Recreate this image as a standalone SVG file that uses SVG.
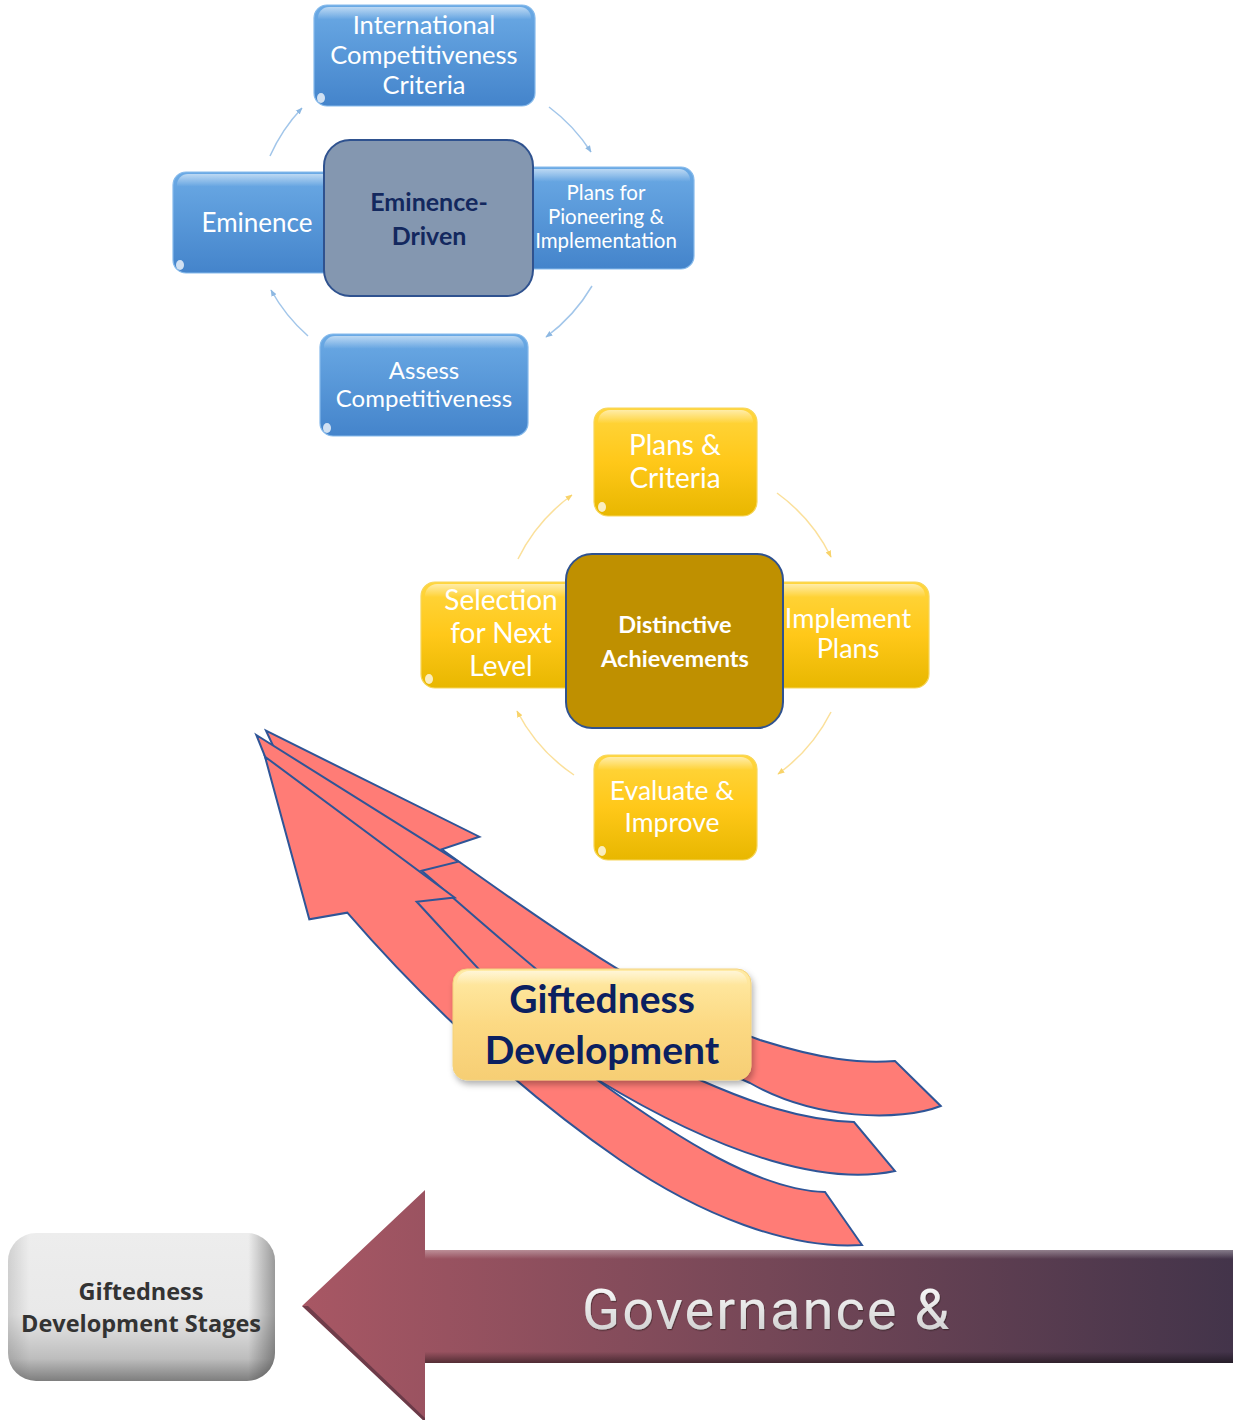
<svg xmlns="http://www.w3.org/2000/svg" width="1233" height="1420" viewBox="0 0 1233 1420">
  <defs>
    <linearGradient id="gBlue" x1="0" y1="0" x2="0" y2="1">
      <stop offset="0" stop-color="#6BAAE5"/>
      <stop offset="1" stop-color="#4484CB"/>
    </linearGradient>
    <linearGradient id="gGold" x1="0" y1="0" x2="0" y2="1">
      <stop offset="0" stop-color="#FFD63F"/>
      <stop offset="0.5" stop-color="#FFC819"/>
      <stop offset="1" stop-color="#E8B700"/>
    </linearGradient>
    <linearGradient id="gGloss" x1="0" y1="0" x2="0" y2="1">
      <stop offset="0" stop-color="#FFFFFF" stop-opacity="0.55"/>
      <stop offset="0.13" stop-color="#FFFFFF" stop-opacity="0"/>
    </linearGradient>
    <linearGradient id="gCream" x1="0" y1="0" x2="0" y2="1">
      <stop offset="0" stop-color="#FFEBA6"/>
      <stop offset="0.5" stop-color="#FCD983"/>
      <stop offset="1" stop-color="#F6CE74"/>
    </linearGradient>
    <linearGradient id="gShaft" x1="302" y1="0" x2="1233" y2="0" gradientUnits="userSpaceOnUse">
      <stop offset="0" stop-color="#A85764"/>
      <stop offset="0.5" stop-color="#754757"/>
      <stop offset="1" stop-color="#43344A"/>
    </linearGradient>
    <linearGradient id="gShaftShade" x1="0" y1="1250" x2="0" y2="1363" gradientUnits="userSpaceOnUse">
      <stop offset="0" stop-color="#FFFFFF" stop-opacity="0.35"/>
      <stop offset="0.08" stop-color="#FFFFFF" stop-opacity="0"/>
      <stop offset="0.9" stop-color="#000000" stop-opacity="0"/>
      <stop offset="1" stop-color="#000000" stop-opacity="0.45"/>
    </linearGradient>
    <linearGradient id="gGreyV" x1="0" y1="0" x2="0" y2="1">
      <stop offset="0" stop-color="#EDEDED"/>
      <stop offset="0.55" stop-color="#E9E9E9"/>
      <stop offset="0.85" stop-color="#BDBDBD"/>
      <stop offset="1" stop-color="#7E7E7E"/>
    </linearGradient>
    <linearGradient id="gGreyH" x1="0" y1="0" x2="1" y2="0">
      <stop offset="0" stop-color="#000000" stop-opacity="0.12"/>
      <stop offset="0.08" stop-color="#000000" stop-opacity="0"/>
      <stop offset="0.9" stop-color="#000000" stop-opacity="0"/>
      <stop offset="1" stop-color="#000000" stop-opacity="0.35"/>
    </linearGradient>
    <linearGradient id="gLabel" x1="0" y1="0" x2="0" y2="1">
      <stop offset="0" stop-color="#FFFFFF"/>
      <stop offset="1" stop-color="#C9C9C9"/>
    </linearGradient>
    <filter id="shadow" x="-10%" y="-10%" width="125%" height="135%">
      <feDropShadow dx="2" dy="4" stdDeviation="3" flood-color="#000000" flood-opacity="0.3"/>
    </filter>
    <filter id="textShade" x="-5%" y="-20%" width="110%" height="140%">
      <feDropShadow dx="0.8" dy="1.2" stdDeviation="0.6" flood-color="#2A1A24" flood-opacity="0.6"/>
    </filter>
    <marker id="tipBlue" viewBox="0 0 10 10" refX="9" refY="5" markerWidth="7" markerHeight="7" markerUnits="userSpaceOnUse" orient="auto">
      <path d="M0,1 L10,5 L0,9 Z" fill="#8DB8E2"/>
    </marker>
    <marker id="tipGold" viewBox="0 0 10 10" refX="9" refY="5" markerWidth="7" markerHeight="7" markerUnits="userSpaceOnUse" orient="auto">
      <path d="M0,1 L10,5 L0,9 Z" fill="#F8D36A"/>
    </marker>
    <style>
      .blue { fill: url(#gBlue); stroke: #86BAEB; stroke-width: 1.2; }
      .gold { fill: url(#gGold); stroke: #F7D65A; stroke-width: 1.2; }
      .gloss { fill: url(#gGloss); }
      .glint { fill: #FFFFFF; opacity: 0.75; }
      .lt { font-family: Lato, "Liberation Sans", sans-serif; fill: #FFFFFF; text-anchor: middle; }
      .hub { font-family: Lato, "Liberation Sans", sans-serif; font-weight: bold; text-anchor: middle; }
      .arcB { fill: none; stroke: #A2C6EA; stroke-width: 1.5; marker-end: url(#tipBlue); }
      .arcG { fill: none; stroke: #FBE09A; stroke-width: 1.5; marker-end: url(#tipGold); }
      .red { fill: #FF7C76; stroke: #2F5597; stroke-width: 2; stroke-linejoin: miter; }
      .stage { font-family: "Open Sans", "Liberation Sans", sans-serif; font-weight: bold; font-size: 23.5px; fill: #333333; text-anchor: middle; }
    </style>
  </defs>

  <rect width="1233" height="1420" fill="#FFFFFF"/>

  <!-- cycle arcs of both rings -->
  <g id="connectors">
    <path class="arcB" d="M549,107 A172,172 0 0 1 591,152"/>
    <path class="arcB" d="M592,286 A172,172 0 0 1 546,337"/>
    <path class="arcB" d="M308,336 A172,172 0 0 1 271,290"/>
    <path class="arcB" d="M270,156 A172,172 0 0 1 302,108"/>
    <path class="arcG" d="M777,493 A173,173 0 0 1 831,557"/>
    <path class="arcG" d="M831,712 A173,173 0 0 1 778,774"/>
    <path class="arcG" d="M574,775 A173,173 0 0 1 517,711"/>
    <path class="arcG" d="M518,559 A173,173 0 0 1 572,495"/>
  </g>

  <!-- blue ring -->
  <g id="node-intl-criteria">
    <rect class="blue" x="314" y="5" width="221" height="101" rx="13"/>
    <rect class="gloss" x="318" y="7" width="213" height="97" rx="11"/>
    <ellipse class="glint" cx="321" cy="98" rx="4" ry="5"/>
    <text class="lt" font-size="25.5" x="424" y="34">International</text>
    <text class="lt" font-size="25.5" x="424" y="64">Competitiveness</text>
    <text class="lt" font-size="25.5" x="424" y="94">Criteria</text>
  </g>
  <g id="node-eminence">
    <rect class="blue" x="173" y="172" width="167" height="101" rx="13"/>
    <rect class="gloss" x="177" y="174" width="159" height="97" rx="11"/>
    <ellipse class="glint" cx="180" cy="265" rx="4" ry="5"/>
    <text class="lt" font-size="26" x="257" y="232">Eminence</text>
  </g>
  <g id="node-plans-pioneering">
    <rect class="blue" x="518" y="167" width="176" height="102" rx="13"/>
    <rect class="gloss" x="522" y="169" width="168" height="98" rx="11"/>
    <text class="lt" font-size="20.5" x="606" y="200">Plans for</text>
    <text class="lt" font-size="20.5" x="606" y="224">Pioneering &amp;</text>
    <text class="lt" font-size="20.5" x="606" y="248">Implementation</text>
  </g>
  <g id="node-assess">
    <rect class="blue" x="320" y="334" width="208" height="102" rx="13"/>
    <rect class="gloss" x="324" y="336" width="200" height="98" rx="11"/>
    <ellipse class="glint" cx="327" cy="428" rx="4" ry="5"/>
    <text class="lt" font-size="24" x="424" y="379">Assess</text>
    <text class="lt" font-size="24" x="424" y="407">Competitiveness</text>
  </g>
  <g id="node-eminence-driven">
    <rect x="324" y="140" width="209" height="156" rx="26" fill="#8497B0" stroke="#2F528F" stroke-width="2"/>
    <text class="hub" font-size="25" fill="#13285E" x="429" y="211">Eminence-</text>
    <text class="hub" font-size="25" fill="#13285E" x="429" y="245">Driven</text>
  </g>

  <!-- gold ring -->
  <g id="node-plans-criteria">
    <rect class="gold" x="594" y="408" width="163" height="108" rx="14"/>
    <rect class="gloss" x="598" y="410" width="155" height="104" rx="12"/>
    <ellipse class="glint" cx="602" cy="507" rx="4" ry="5"/>
    <text class="lt" font-size="28" x="675" y="455">Plans &amp;</text>
    <text class="lt" font-size="28" x="675" y="488">Criteria</text>
  </g>
  <g id="node-selection">
    <rect class="gold" x="421" y="582" width="161" height="106" rx="14"/>
    <rect class="gloss" x="425" y="584" width="153" height="102" rx="12"/>
    <ellipse class="glint" cx="429" cy="679" rx="4" ry="5"/>
    <text class="lt" font-size="28" x="501" y="610">Selection</text>
    <text class="lt" font-size="28" x="501" y="643">for Next</text>
    <text class="lt" font-size="28" x="501" y="676">Level</text>
  </g>
  <g id="node-implement">
    <rect class="gold" x="767" y="582" width="162" height="106" rx="14"/>
    <rect class="gloss" x="771" y="584" width="154" height="102" rx="12"/>
    <text class="lt" font-size="27" x="848" y="628">Implement</text>
    <text class="lt" font-size="27" x="848" y="658">Plans</text>
  </g>
  <g id="node-evaluate">
    <rect class="gold" x="594" y="755" width="163" height="105" rx="14"/>
    <rect class="gloss" x="598" y="757" width="155" height="101" rx="12"/>
    <ellipse class="glint" cx="602" cy="851" rx="4" ry="5"/>
    <text class="lt" font-size="26.5" x="672" y="800">Evaluate &amp;</text>
    <text class="lt" font-size="26.5" x="672" y="832">Improve</text>
  </g>
  <g id="node-distinctive">
    <rect x="566" y="554" width="217" height="174" rx="26" fill="#BF9000" stroke="#2F528F" stroke-width="2"/>
    <text class="hub" font-size="23.5" fill="#FFFFFF" x="675" y="633">Distinctive</text>
    <text class="hub" font-size="23.5" fill="#FFFFFF" x="675" y="667">Achievements</text>
  </g>

  <!-- three stacked curved arrows, back to front -->
  <g id="growth-arrows">
    <path class="red" d="M266,730.7 L479.3,836.7 L441.7,849.3 C540,920 660,1005 760,1040 C820,1059 860,1064 895,1061 L940.7,1106 C900,1122 815,1120 750,1083 C650,1040 520,960 420,905 L380,886 L336,880 Z"/>
    <path class="red" d="M256.3,735 L458.3,861.7 L421.7,870.7 C520,955 610,1040 700,1080 C750,1102 800,1120 854,1122 L895,1171 C830,1185 730,1160 598,1080 C530,1040 450,965 400,920 L360,880 L311,870 Z"/>
    <path class="red" d="M265,756.7 L454.5,897.5 L416.7,901.7 C480,970 540,1040 600,1082 C680,1140 760,1190 825,1192 L862,1245 C790,1250 700,1215 620,1160 C540,1105 440,1020 347.3,912.7 L309.3,919.3 Z"/>
  </g>

  <g id="node-giftedness-development">
    <rect x="453" y="969" width="298" height="111" rx="14" fill="url(#gCream)" stroke="#F3D27C" stroke-width="1" filter="url(#shadow)"/>
    <rect x="457" y="971" width="290" height="107" rx="12" fill="url(#gGloss)"/>
    <text class="hub" font-size="39" fill="#0B2060" x="602" y="1013">Giftedness</text>
    <text class="hub" font-size="39" fill="#0B2060" x="602" y="1064">Development</text>
  </g>

  <!-- governance band -->
  <g id="node-governance">
    <path d="M302,1306 L425,1190 L425,1250 L1233,1250 L1233,1363 L425,1363 L425,1422 Z" fill="url(#gShaft)"/>
    <rect x="425" y="1250" width="808" height="113" fill="url(#gShaftShade)"/>
    <path d="M302,1306 L425,1422 L425,1418 L308,1306 Z" fill="#3A2230" opacity="0.5"/>
    <text x="582" y="1329" font-family="Roboto, 'Liberation Sans', sans-serif" font-size="56" letter-spacing="2" fill="url(#gLabel)" filter="url(#textShade)">Governance &amp;</text>
  </g>

  <g id="node-stages">
    <rect x="8" y="1233" width="267" height="148" rx="28" fill="url(#gGreyV)"/>
    <rect x="8" y="1233" width="267" height="148" rx="28" fill="url(#gGreyH)"/>
    <text class="stage" x="141" y="1300">Giftedness</text>
    <text class="stage" x="141" y="1332">Development Stages</text>
  </g>
</svg>
